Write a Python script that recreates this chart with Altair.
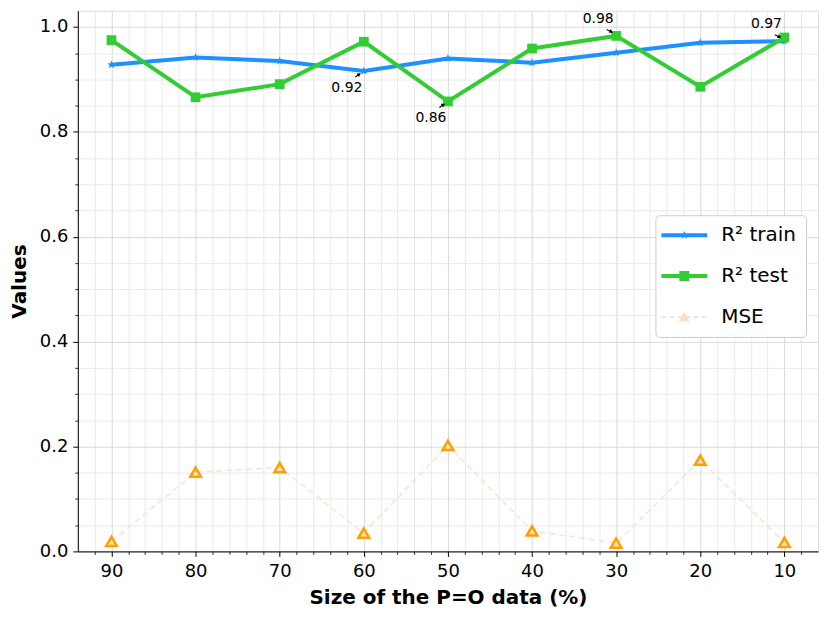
import math
import altair as alt
import pandas as pd

# ---------------- data ----------------
sizes = [90, 80, 70, 60, 50, 40, 30, 20, 10]
r2_train = [0.928, 0.942, 0.935, 0.916, 0.940, 0.932, 0.951, 0.970, 0.973]
r2_test = [0.975, 0.866, 0.891, 0.972, 0.858, 0.959, 0.983, 0.886, 0.980]
mse = [0.019, 0.151, 0.160, 0.035, 0.202, 0.039, 0.016, 0.174, 0.017]

series_names = ["R² train", "R² test", "MSE"]
series_colors = ["#1e90ff", "#32cd32", "#fcdcc6"]

x_major = [90, 80, 70, 60, 50, 40, 30, 20, 10]
x_minor = [8, 12, 14, 16, 18, 22, 24, 26, 28, 32, 34, 36, 38, 42, 44, 46, 48,
           52, 54, 56, 58, 62, 64, 66, 68, 72, 74, 76, 78, 82, 84, 86, 88, 92]
y_major = [0.0, 0.2, 0.4, 0.6, 0.8, 1.0]
y_minor = [0.05, 0.1, 0.15, 0.25, 0.3, 0.35, 0.45, 0.5, 0.55, 0.65, 0.7,
           0.75, 0.85, 0.9, 0.95]

ann_sizes = [60, 50, 30, 10]
ann_series = ["R² train", "R² test", "R² test", "R² train"]
ann_side = ["below", "below", "above", "above"]

x_label = "Size of the P=O data (%)"
y_label = "Values"

# ---------------- frames ----------------
values_by_series = {"R² train": r2_train, "R² test": r2_test, "MSE": mse}
rows = []
for name in series_names:
    for s, v in zip(sizes, values_by_series[name]):
        rows.append({"size": s, "value": v, "series": name})
df = pd.DataFrame(rows)
df_train = df[df.series == "R² train"]
df_test = df[df.series == "R² test"]
df_mse = df[df.series == "MSE"]

ann_rows = []
for s, name, side in zip(ann_sizes, ann_series, ann_side):
    v = values_by_series[name][sizes.index(s)]
    ann_rows.append({"size": s, "value": v, "label": f"{v:.2f}", "side": side})
df_ann = pd.DataFrame(ann_rows)
df_below = df_ann[df_ann.side == "below"]
df_above = df_ann[df_ann.side == "above"]


# ---------------- symbol paths ----------------
def star(R, r):
    pts = []
    for k in range(10):
        ang = math.radians(36 * k)
        rad = R if k % 2 == 0 else r
        pts.append((rad * math.sin(ang), -rad * math.cos(ang)))
    return "M" + "L".join(f"{x:.3f},{y:.3f}" for x, y in pts) + "Z"


star_shape = star(0.95, 0.4)
line_seg = "M-4.6,-0.4H4.6V0.4H-4.6Z"
dash = ""
xpos = -4.6
while xpos < 4.6:
    x2 = min(xpos + 1.0, 4.6)
    dash += f"M{xpos:.2f},-0.13H{x2:.2f}V0.13H{xpos:.2f}Z"
    xpos += 1.6
legend_paths = [
    line_seg + star(0.9, 0.38),
    line_seg + "M-1,-1H1V1H-1Z",
    dash + "M0,-1L1.1,0.9L-1.1,0.9Z",
]

# ---------------- scales / axes ----------------
xscale = alt.Scale(domain=[6, 94], reverse=True, nice=False, zero=False)
yscale = alt.Scale(domain=[0, 1.031], nice=False, zero=False)

major_x = alt.Axis(orient="bottom", values=x_major, format="d", labelFontSize=18,
                   labelColor="black", labelPadding=6, tickSize=5, tickColor="black",
                   tickWidth=1, domain=True, domainColor="black", domainWidth=1,
                   grid=True, gridColor="#d9d9d9", gridWidth=1, labelFlush=False,
                   title=x_label, titleFontSize=20, titleFontWeight="bold",
                   titleColor="black", titleY=52, titleBaseline="alphabetic")
minor_x = alt.Axis(orient="bottom", values=x_minor, labels=False, tickSize=3,
                   tickColor="black", tickWidth=0.8, domain=False, grid=True,
                   gridColor="#e4e4e4", gridWidth=0.8, title=None)
major_y = alt.Axis(orient="left", values=y_major, format=".1f", labelFontSize=18,
                   labelColor="black", labelPadding=5, tickSize=5, tickColor="black",
                   tickWidth=1, domain=True, domainColor="black", domainWidth=1,
                   grid=True, gridColor="#d9d9d9", gridWidth=1, labelFlush=False,
                   title=y_label, titleFontSize=20, titleFontWeight="bold",
                   titleColor="black", titleAngle=270, titleX=-52, titleY=271,
                   titleAlign="center", titleBaseline="alphabetic")
minor_y = alt.Axis(orient="left", values=y_minor, labels=False, tickSize=3,
                   tickColor="black", tickWidth=0.8, domain=False, grid=True,
                   gridColor="#e4e4e4", gridWidth=0.8, title=None)

X = alt.X("size:Q", scale=xscale, axis=None)
Y = alt.Y("value:Q", scale=yscale, axis=None)

# ---------------- layers ----------------
minor_layer = alt.Chart(df).mark_point(opacity=0).encode(
    x=alt.X("size:Q", scale=xscale, axis=minor_x),
    y=alt.Y("value:Q", scale=yscale, axis=minor_y))
major_layer = alt.Chart(df).mark_point(opacity=0).encode(
    x=alt.X("size:Q", scale=xscale, axis=major_x),
    y=alt.Y("value:Q", scale=yscale, axis=major_y))

mse_line = alt.Chart(df_mse).mark_line(color="#ffd2b0", strokeWidth=1.4,
                                       strokeDash=[6, 4], opacity=0.7).encode(x=X, y=Y)
mse_pts = alt.Chart(df_mse).mark_point(shape="triangle-up", size=115, filled=True,
                                       fill="#f6dfcb", stroke="#ffa000",
                                       strokeWidth=2.5, opacity=1).encode(x=X, y=Y)
train_line = alt.Chart(df_train).mark_line(color="#1e90ff", strokeWidth=4).encode(x=X, y=Y)
train_pts = alt.Chart(df_train).mark_point(shape=star_shape, size=85, filled=True,
                                           color="#1e90ff", opacity=1).encode(x=X, y=Y)
test_line = alt.Chart(df_test).mark_line(color="#32cd32", strokeWidth=4).encode(x=X, y=Y)
test_pts = alt.Chart(df_test).mark_point(shape="square", size=95, filled=True,
                                         color="#32cd32", opacity=1).encode(x=X, y=Y)

text_below = alt.Chart(df_below).mark_text(dx=-17, dy=17, fontSize=14, color="black",
                                           font="DejaVu Sans").encode(x=X, y=Y, text="label:N")
text_above = alt.Chart(df_above).mark_text(dx=-18, dy=-17, fontSize=14, color="black",
                                           font="DejaVu Sans").encode(x=X, y=Y, text="label:N")
arrow_below = alt.Chart(df_below).mark_rule(color="black", strokeWidth=1.1, xOffset=-8.5,
                                            yOffset=6, x2Offset=-5, y2Offset=3.5).encode(
    x=X, y=Y, x2=alt.X2("size"), y2=alt.Y2("value"))
head_below = alt.Chart(df_below).mark_point(shape="triangle-up", size=18, filled=True,
                                            color="black", opacity=1, angle=57,
                                            xOffset=-4.5, yOffset=3.2).encode(x=X, y=Y)
arrow_above = alt.Chart(df_above).mark_rule(color="black", strokeWidth=1.1, xOffset=-9.5,
                                            yOffset=-6.5, x2Offset=-5.5, y2Offset=-4.5).encode(
    x=X, y=Y, x2=alt.X2("size"), y2=alt.Y2("value"))
head_above = alt.Chart(df_above).mark_point(shape="triangle-up", size=18, filled=True,
                                            color="black", opacity=1, angle=118,
                                            xOffset=-4.8, yOffset=-4.1).encode(x=X, y=Y)

leg = alt.Legend(title=None, orient="none", legendX=579, legendY=205, direction="vertical",
                 padding=10, fillColor="white", strokeColor="#cccccc",
                 cornerRadius=4, labelFont="DejaVu Sans", labelFontSize=20,
                 labelColor="black", symbolSize=100, symbolStrokeWidth=0,
                 symbolOffset=9, labelOffset=27, rowPadding=21)
legend_layer = alt.Chart(df).mark_point(filled=True, size=100, opacity=1).encode(
    x=X, y=Y,
    color=alt.Color("series:N", scale=alt.Scale(domain=series_names, range=series_colors),
                    legend=leg),
    shape=alt.Shape("series:N", scale=alt.Scale(domain=series_names, range=legend_paths),
                    legend=leg),
).transform_filter("false")

chart = alt.layer(
    minor_layer, major_layer,
    mse_line, mse_pts,
    train_line, train_pts,
    test_line, test_pts,
    arrow_below, head_below, arrow_above, head_above,
    text_below, text_above,
    legend_layer,
).resolve_axis(x="independent", y="independent").properties(
    width=742, height=542,
    padding={"left": 70, "top": 2, "right": 4, "bottom": 58},
    autosize=alt.AutoSizeParams(type="none"),
).configure_view(
    fill="#f9f9f9", stroke="black", strokeWidth=1.2
).configure(font="DejaVu Sans", background="white")

chart.save("out.html", embed_options={"renderer": "svg", "actions": False})
